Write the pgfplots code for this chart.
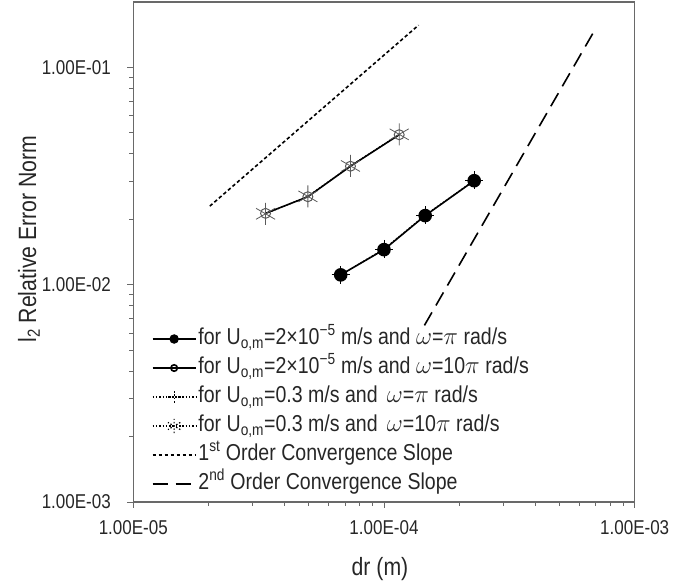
\documentclass[border=0pt]{standalone}
\usepackage{fontspec}
\setmainfont{Liberation Sans}[FakeStretch=0.85]
\usepackage{pgfplots}
\pgfplotsset{compat=1.18}
\definecolor{axgray}{RGB}{105,105,105}
\definecolor{mkgray}{RGB}{90,90,90}
\begin{document}
\begin{tikzpicture}
\begin{axis}[
  name=ax,
  scale only axis,
  width=501.4bp, height=500bp,
  xmode=log, ymode=log,
  xmin=1e-5, xmax=1e-3,
  ymin=1e-3, ymax=0.2,
  xtick={1e-5,1e-4,1e-3},
  xticklabels={1.00E-05,1.00E-04,1.00E-03},
  ytick={1e-3,1e-2,1e-1},
  yticklabels={1.00E-03,1.00E-02,1.00E-01},
  tick align=outside,
  xtick pos=left, ytick pos=left,
  major tick length=6bp, minor tick length=4bp,
  axis line style={axgray, line width=1.2bp},
  every tick/.style={axgray, line width=0.8bp},
  tick label style={font=\fontsize{20bp}{22bp}\selectfont, text=black!85},
  xticklabel style={yshift=-9bp},
  yticklabel style={xshift=-13bp},
  xlabel={dr (m)},
  ylabel={l\textsubscript{2} Relative Error Norm},
  label style={font=\fontsize{25bp}{27bp}\selectfont, text=black!85},
  xlabel style={at={(axis description cs:0.492,-0.134)}, anchor=center},
  ylabel style={at={(axis description cs:-0.208,0.526)}, anchor=center},
  legend style={draw=none, fill=none, at={(axis description cs:0.037,0.355)}, anchor=north west,
    inner sep=0pt, outer sep=0pt, row sep=0bp, column sep=0bp,
    font=\fontsize{23bp}{25bp}\selectfont, text=black!85,
    nodes={text height=18bp, text depth=7bp, inner sep=2bp}},
  legend cell align=left,
  legend image code/.code={\draw[mark repeat=2,mark phase=2,#1] plot coordinates {(0bp,0bp)(21.5bp,0bp)(43bp,0bp)};},
  legend image post style={mark options={scale=0.65}},
]
% series 1: U=2e-5, omega=pi
\addplot[black, line width=1.6bp, mark=*, mark size=6bp, mark options={solid, fill=black}]
  coordinates {(6.72e-5,0.0111) (1.0e-4,0.0145) (1.46e-4,0.0208) (2.29e-4,0.0301)};
\addlegendentry{for U\textsubscript{o,m}=2×10\textsuperscript{−5} m/s and $\omega$=$\pi$ rad/s}
% series 2: U=2e-5, omega=10pi
\addplot[black, line width=1.6bp, mark=o, mark size=5bp, mark options={solid, draw=mkgray, line width=1bp}]
  coordinates {(3.37e-5,0.0213) (4.97e-5,0.0254) (7.35e-5,0.0351) (1.15e-4,0.0490)};
\addlegendentry{for U\textsubscript{o,m}=2×10\textsuperscript{−5} m/s and $\omega$=10$\pi$ rad/s}
% series 3: U=0.3, omega=pi
\addplot[black, line width=1.2bp, dash pattern=on 1.5bp off 1.8bp, mark=+, mark size=9bp, mark options={solid, line width=0.9bp}]
  coordinates {(6.72e-5,0.0111) (1.0e-4,0.0146) (1.46e-4,0.0209) (2.29e-4,0.0302)};
\addlegendentry{for U\textsubscript{o,m}=0.3 m/s and\, $\omega$=$\pi$ rad/s}
% series 4: U=0.3, omega=10pi
\addplot[black, line width=1.2bp, dash pattern=on 1.5bp off 1.8bp, mark=asterisk, mark size=11bp, mark options={solid, draw=mkgray, line width=0.8bp}]
  coordinates {(3.37e-5,0.0212) (4.97e-5,0.0255) (7.35e-5,0.0352) (1.15e-4,0.0492)};
\addlegendentry{for U\textsubscript{o,m}=0.3 m/s and\, $\omega$=10$\pi$ rad/s}
% first-order slope
\addplot[black, line width=1.6bp, dash pattern=on 3.5bp off 2.5bp]
  coordinates {(2.02e-5,0.0230) (1.374e-4,0.1565)};
\addlegendentry{1\textsuperscript{st} Order Convergence Slope}
% second-order slope
\addplot[black, line width=1.6bp, dash pattern=on 15bp off 8bp]
  coordinates {(1.45e-4,0.0065) (6.8e-4,0.143)};
\addlegendentry{2\textsuperscript{nd} Order Convergence Slope}
\end{axis}
\pgfresetboundingbox
\path ([shift={(-133.3bp,-82bp)}]ax.south west) rectangle ([shift={(38.3bp,2bp)}]ax.north east);
\end{tikzpicture}
\end{document}
